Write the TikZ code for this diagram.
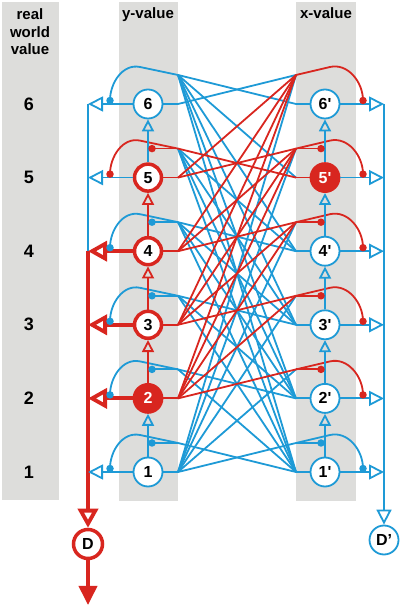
\documentclass[tikz,border=0pt]{standalone}
\usepackage{fontspec}
\setmainfont{Liberation Sans}
\usepackage{tikz}
\usetikzlibrary{positioning,arrows.meta,calc}
\definecolor{cblue}{HTML}{1E9AD6}
\definecolor{cred}{HTML}{D8261F}
\definecolor{cgray}{HTML}{DDDDDB}

\begin{document}
\begin{tikzpicture}[
    x=1pt, y=1pt,
    unit/.style={circle, draw=cblue, line width=1.8pt, fill=white, minimum size=29pt, inner sep=0pt, font=\fontsize{16}{16}\selectfont\bfseries},
    unitact/.style={unit, draw=cred, line width=3.5pt, minimum size=27pt},
    unitseed/.style={unit, draw=cred, fill=cred, text=white},
    inhib/.style={circle, fill=#1, inner sep=0pt, minimum size=7.5pt},
    wire/.style={line width=1.8pt, draw=#1},
    outarr/.style={line width=1.8pt, draw=cblue, -{Triangle[open, length=15pt, width=15pt]}},
    outarrhot/.style={line width=3.8pt, draw=cred, -{Triangle[open, length=19pt, width=20pt]}},
    chainarr/.style={line width=1.8pt, draw=#1, -{Triangle[open, length=12pt, width=12pt]}},
    col/.style={fill=cgray, draw=none},
    hdr/.style={font=\fontsize{15}{17.5}\selectfont\bfseries, align=center},
    rw/.style={font=\fontsize{18}{18}\selectfont\bfseries}
  ]
    \useasboundingbox (0,0) rectangle (400,607);
    \fill[col] (2,107) rectangle (59,605);
    \fill[col] (119,106) rectangle (178,605);
    \fill[col] (296,106) rectangle (356,605);

    \node[hdr] (hreal) at (30,575) {real\\world\\value};
    \node[hdr, anchor=base] (hy) at (148,588.5) {y-value};
    \node[hdr, anchor=base] (hx) at (326,588.5) {x-value};

    \foreach \i [evaluate=\i as \rowy using 135+73.6*(\i-1)] in {1,...,6}{
      \node[rw] (rw\i) at (29,\rowy) {\i};
      \coordinate (fl\i) at (178,\rowy);
      \coordinate (gl\i) at (178,\rowy+29);
      \coordinate (fr\i) at (296,\rowy);
      \coordinate (gr\i) at (296,\rowy+29);
      \coordinate (bl\i) at (88,\rowy);
      \coordinate (br\i) at (384,\rowy);
      \coordinate (pol\i) at (110,\rowy+3.5);
      \coordinate (por\i) at (363,\rowy+3.5);
      \coordinate (pcl\i) at (152,\rowy+29);
      \coordinate (pcr\i) at (321,\rowy+29);
    }

    \foreach \i/\s [evaluate=\i as \rowy using 135+73.6*(\i-1)] in {1/unit, 2/unitseed, 3/unitact, 4/unitact, 5/unitact, 6/unit}
      \node[\s] (y\i) at (148,\rowy) {\i};
    \foreach \i/\s [evaluate=\i as \rowy using 135+73.6*(\i-1)] in {1/unit, 2/unit, 3/unit, 4/unit, 5/unitseed, 6/unit}
      \node[\s] (x\i) at (325,\rowy) {\i\textquotesingle};

    \node[unitact, minimum size=29pt] (D) at (88,63) {D};
    \node[unit] (Dp) at (384,67) {D'};
    \coordinate (dout) at (88,2);

    \foreach \i in {1,...,6}
      \draw[wire=cblue] (fl1) -- (gr\i);
    \draw[wire=cblue] (fl6) -- (gr6);
    \foreach \i in {1,...,6}
      \foreach \j in {\i,...,6}{
        \ifnum\i\j=55 \else \draw[wire=cblue] (fr\i) -- (gl\j); \fi
      }
    \foreach \i in {2,...,5}
      \foreach \j in {\i,...,6}
        \draw[wire=cred] (fl\i) -- (gr\j);
    \draw[wire=cred] (fr5) -- (gl5);

    \foreach \i/\c in {1/cblue, 2/cred, 3/cred, 4/cred, 5/cred, 6/cblue}
      \draw[wire=\c] (y\i) -- (fl\i);
    \foreach \i/\c in {1/cblue, 2/cblue, 3/cblue, 4/cblue, 5/cred, 6/cblue}
      \draw[wire=\c] (fr\i) -- (x\i);

    \foreach \i/\lc/\rc in {1/cblue/cblue, 2/cblue/cred, 3/cblue/cred, 4/cblue/cred, 5/cred/cred, 6/cblue/cred}{
      \draw[wire=\lc] (pol\i) to[out=90, in=168] ($(gl\i)+(-38,8)$) -- (gl\i);
      \draw[wire=\rc] (gr\i) -- ($(gr\i)+(34,8)$) to[out=13, in=90] (por\i);
    }
    \foreach \i/\lc/\rc in {1/cblue/cblue, 2/cblue/cred, 3/cblue/cred, 4/cblue/cred, 5/cred/cred}{
      \draw[wire=\lc] (pcl\i) -- (gl\i);
      \draw[wire=\rc] (pcr\i) -- (gr\i);
    }

    \foreach \i/\c in {1/cblue, 2/cred, 3/cred, 4/cred, 5/cblue}{
      \pgfmathtruncatemacro\nx{\i+1}
      \draw[chainarr=\c] (y\i) -- (y\nx);
      \draw[chainarr=cblue] (x\i) -- (x\nx);
    }

    \draw[wire=cblue] (bl6) -- (bl4);
    \draw[line width=3.8pt, cred, -{Triangle[open, length=19pt, width=20pt]}] (bl4) -- (D);
    \draw[line width=3.8pt, cred, -{Triangle[length=19pt, width=18pt]}] (D) -- (dout);
    \draw[outarr] (br6) -- (Dp);

    \foreach \i in {1,5,6}
      \draw[outarr] (y\i) -- (bl\i);
    \foreach \i in {2,3,4}
      \draw[outarrhot] (y\i) -- (bl\i);
    \foreach \i in {1,...,6}
      \draw[outarr] (x\i) -- (br\i);

    \foreach \i/\lc/\rc in {1/cblue/cblue, 2/cblue/cred, 3/cblue/cred, 4/cblue/cred, 5/cred/cred, 6/cblue/cred}{
      \node[inhib=\lc] (dol\i) at (pol\i) {};
      \node[inhib=\rc] (dor\i) at (por\i) {};
    }
    \foreach \i/\lc/\rc in {1/cblue/cblue, 2/cblue/cred, 3/cblue/cred, 4/cblue/cred, 5/cred/cred}{
      \node[inhib=\lc] (dcl\i) at (pcl\i) {};
      \node[inhib=\rc] (dcr\i) at (pcr\i) {};
    }
  \end{tikzpicture}
\end{document}
